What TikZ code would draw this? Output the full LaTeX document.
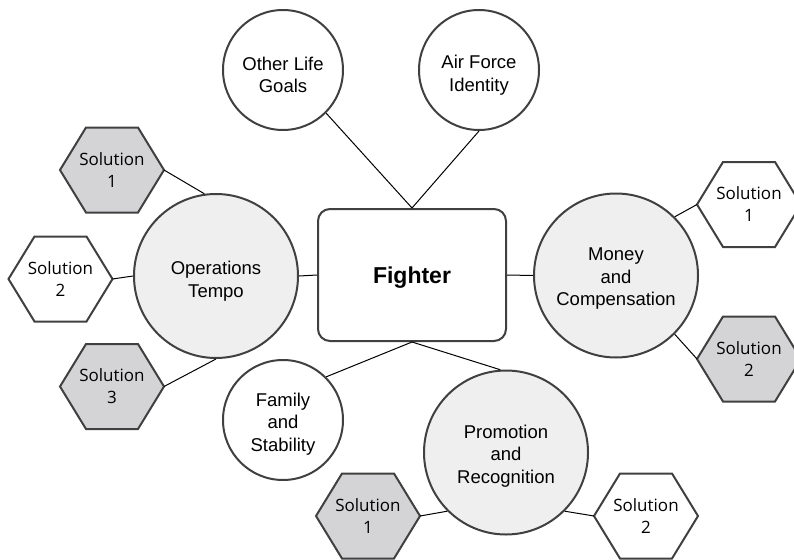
\documentclass[tikz,border=0pt]{standalone}
\usepackage{fontspec}
\setmainfont{Liberation Sans}
\newfontfamily\solfont{Open Sans}
\definecolor{edge}{HTML}{404040}
\definecolor{lightfill}{HTML}{EFEFEF}
\definecolor{darkfill}{HTML}{D4D4D6}
\tikzset{
  bigcirc/.style={circle, draw=edge, line width=2pt, fill=lightfill, minimum size=164pt, inner sep=0pt},
  smallcirc/.style={circle, draw=edge, line width=2pt, fill=white, minimum size=120pt, inner sep=0pt},
  circtext/.style={align=center, inner sep=0pt, font=\fontsize{18.5}{22.5}\selectfont},
  mainbox/.style={rectangle, rounded corners=12pt, draw=edge, line width=2pt, fill=white, minimum width=188pt, minimum height=132pt},
  boxtext/.style={inner sep=0pt, font=\fontsize{23}{27}\selectfont\bfseries},
  hexline/.style={draw=edge, line width=2pt, line join=miter},
  soltext/.style={align=center, inner sep=0pt, font=\solfont\fontsize{17}{22}\selectfont},
  link/.style={draw=black, line width=1pt}
}
\newcommand{\myhex}[5]{%
  \draw[hexline, fill=#4] (#2-52,#3) -- (#2-26,#3-42.5) -- (#2+26,#3-42.5) -- (#2+52,#3) -- (#2+26,#3+42.5) -- (#2-26,#3+42.5) -- cycle;
  \coordinate (#1-w) at (#2-52,#3);
  \coordinate (#1-e) at (#2+52,#3);
  \node[soltext] (#1) at (#2,#3) {Solution\\#5};
}
\begin{document}
\begin{tikzpicture}[x=1pt, y=-1pt]
\useasboundingbox (0,0) rectangle (794,559);
% main nodes
\node[mainbox] (box) at (412,275) {};
\node[boxtext] (boxt) at (412,278) {Fighter};
\node[smallcirc] (olg) at (283,70) {};
\node[circtext] (olgt) at (283,75) {Other Life\\Goals};
\node[smallcirc] (afi) at (479,70) {};
\node[circtext] (afit) at (479,75) {Air Force\\Identity};
\node[smallcirc] (fam) at (283,420) {};
\node[circtext] (famt) at (283,424) {Family\\and\\Stability};
\node[bigcirc] (ops) at (216,276) {};
\node[circtext] (opst) at (216,281) {Operations\\Tempo};
\node[bigcirc] (mon) at (616,275.5) {};
\node[circtext] (mont) at (616,279) {Money\\and\\Compensation};
\node[bigcirc] (pro) at (506,452.5) {};
\node[circtext] (prot) at (506,456) {Promotion\\and\\Recognition};
% hexagons
\myhex{L1}{112}{170}{darkfill}{1}
\myhex{L2}{60.5}{279}{white}{2}
\myhex{L3}{112}{386.5}{darkfill}{3}
\myhex{R1}{749}{204.5}{white}{1}
\myhex{R2}{749}{359}{darkfill}{2}
\myhex{B1}{368}{516}{darkfill}{1}
\myhex{B2}{646}{516}{white}{2}
% connectors
\draw[link] (olg.south east) -- (box.north);
\draw[link] (afi.south) -- (box.north);
\draw[link] (fam.north east) -- (box.south);
\draw[link] (pro.94) -- (box.south);
\draw[link] (ops.east) -- (box.west);
\draw[link] (box.east) -- (mon.west);
\draw[link] (L1-e) -- (ops.98);
\draw[link] (L2-e) -- (ops.west);
\draw[link] (L3-e) -- (ops.south);
\draw[link] (mon.north east) -- (R1-w);
\draw[link] (mon.south east) -- (R2-w);
\draw[link] (pro.south west) -- (B1-e);
\draw[link] (pro.south east) -- (B2-w);
\end{tikzpicture}
\end{document}
